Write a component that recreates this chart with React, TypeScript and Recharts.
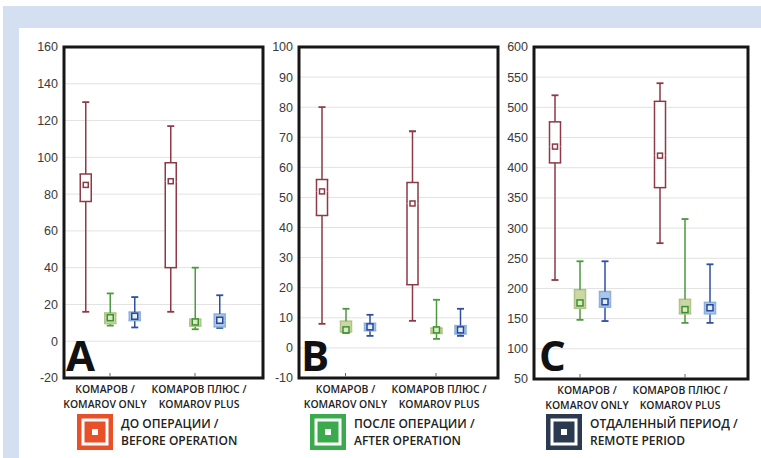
import React from "react";
import { ComposedChart, Bar, XAxis, YAxis, CartesianGrid, ReferenceArea } from "recharts";

// ---------- data ----------
const groupLine1 = ["КОМАРОВ /", "КОМАРОВ ПЛЮС /"];
const groupLine2 = ["KOMAROV ONLY", "KOMAROV PLUS"];
const periodLine1 = ["ДО ОПЕРАЦИИ /", "ПОСЛЕ ОПЕРАЦИИ /", "ОТДАЛЕННЫЙ ПЕРИОД /"];
const periodLine2 = ["BEFORE OPERATION", "AFTER OPERATION", "REMOTE PERIOD"];
const panelLetters = ["A", "B", "C"];

// each entry: [min, q1, median, q3, max] for [Komarov only, Komarov plus]
const aBefore = [[16, 76, 85, 91, 130], [16, 40, 87, 97, 117]];
const aAfter = [[8.5, 9.6, 12.8, 15.4, 26], [6.5, 8.2, 10.5, 12, 40]];
const aRemote = [[7.5, 11.2, 13.6, 15.9, 24], [7.2, 7.8, 11.4, 14.8, 25]];

const bBefore = [[8, 44, 52, 56, 80], [9, 21, 48, 55, 72]];
const bAfter = [[5, 5.3, 6, 8.9, 13], [3, 4.8, 6, 6.6, 16]];
const bRemote = [[4, 5.7, 7, 8.2, 11], [4, 4.6, 6, 7.4, 13]];

const cBefore = [[214, 408, 435, 476, 520], [275, 367, 420, 510, 540]];
const cAfter = [[148, 167, 176, 198, 245], [143, 158, 165, 182, 315]];
const cRemote = [[146, 169, 178, 195, 245], [143, 158, 168, 177, 240]];

const aTicks = [-20, 0, 20, 40, 60, 80, 100, 120, 140, 160];
const bTicks = [-10, 0, 10, 20, 30, 40, 50, 60, 70, 80, 90, 100];
const cTicks = [50, 100, 150, 200, 250, 300, 350, 400, 450, 500, 550, 600];

// ---------- styles / layout ----------
const seriesStyle = [
  { line: "#8c3a45", boxFill: "#ffffff", boxStroke: "#8c3a45", medStroke: "#8c3a45", medFill: "#ffffff", med: 5 },
  { line: "#4a9a3e", boxFill: "#cbd8a4", boxStroke: "#b0c389", medStroke: "#3b9232", medFill: "#dfe8c4", med: 6 },
  { line: "#2e4fa3", boxFill: "#a9c7e6", boxStroke: "#8db1d9", medStroke: "#27479e", medFill: "#e3eef9", med: 6 },
];
const legendColors = ["#e8502a", "#3aaa4c", "#2c3a50"];

const YW = 40;
const M = { top: 10, right: 10, bottom: 0, left: 0 };
const XH = 45;

const panels = [
  { series: [aBefore, aAfter, aRemote], ticks: aTicks, plotLeft: 64, plotTop: 47, plotW: 199, plotH: 331, centers: [46, 131], labelShift: [-5, 4], gap: 24.5, letterX: 66, legendX: 77 },
  { series: [bBefore, bAfter, bRemote], ticks: bTicks, plotLeft: 299, plotTop: 47, plotW: 199, plotH: 331, centers: [46.5, 137], labelShift: [0, 3], gap: 24, letterX: 301, legendX: 310 },
  { series: [cBefore, cAfter, cRemote], ticks: cTicks, plotLeft: 534, plotTop: 47, plotW: 214, plotH: 332, centers: [46, 151], labelShift: [7, -5], gap: 25, letterX: 539, legendX: 546 },
];

function buildRows(series: number[][][], centers: number[], gap: number) {
  const rows: any[] = [];
  centers.forEach((c, g) => {
    series.forEach((vals, s) => {
      const [mn, q1, md, q3, mx] = vals[g];
      rows.push({ x: c + (s - 1) * gap, s, base: mn, lw: q1 - mn, b1: md - q1, b2: q3 - md, uw: mx - q3 });
    });
  });
  return rows;
}

const CAP = 7;
const span = (p: any) => {
  const a = p.y, b = p.y + p.height;
  return [Math.min(a, b), Math.max(a, b)];
};

const Blank = () => <g />;

const LowerWhisker = (p: any) => {
  const st = seriesStyle[p.payload.s];
  const cx = p.x + p.width / 2;
  const [t, b] = span(p);
  return (
    <g>
      <line x1={cx} x2={cx} y1={t} y2={b} stroke={st.line} strokeWidth={1.5} />
      <line x1={cx - CAP / 2} x2={cx + CAP / 2} y1={b} y2={b} stroke={st.line} strokeWidth={1.8} />
    </g>
  );
};

const UpperWhisker = (p: any) => {
  const st = seriesStyle[p.payload.s];
  const cx = p.x + p.width / 2;
  const [t, b] = span(p);
  return (
    <g>
      <line x1={cx} x2={cx} y1={t} y2={b} stroke={st.line} strokeWidth={1.5} />
      <line x1={cx - CAP / 2} x2={cx + CAP / 2} y1={t} y2={t} stroke={st.line} strokeWidth={1.8} />
    </g>
  );
};

const BoxLower = (p: any) => {
  const st = seriesStyle[p.payload.s];
  const [t, b] = span(p);
  const l = p.x, r = p.x + p.width;
  return (
    <g>
      <rect x={l} y={t} width={p.width} height={b - t} fill={st.boxFill} />
      <line x1={l} x2={l} y1={t} y2={b} stroke={st.boxStroke} strokeWidth={1.5} />
      <line x1={r} x2={r} y1={t} y2={b} stroke={st.boxStroke} strokeWidth={1.5} />
      <line x1={l - 0.75} x2={r + 0.75} y1={b} y2={b} stroke={st.boxStroke} strokeWidth={1.5} />
    </g>
  );
};

const BoxUpper = (p: any) => {
  const st = seriesStyle[p.payload.s];
  const [t, b] = span(p);
  const l = p.x, r = p.x + p.width;
  const cx = p.x + p.width / 2;
  return (
    <g>
      <rect x={l} y={t} width={p.width} height={b - t} fill={st.boxFill} />
      <line x1={l} x2={l} y1={t} y2={b} stroke={st.boxStroke} strokeWidth={1.5} />
      <line x1={r} x2={r} y1={t} y2={b} stroke={st.boxStroke} strokeWidth={1.5} />
      <line x1={l - 0.75} x2={r + 0.75} y1={t} y2={t} stroke={st.boxStroke} strokeWidth={1.5} />
      <rect x={cx - st.med / 2} y={b - st.med / 2} width={st.med} height={st.med} fill={st.medFill} stroke={st.medStroke} strokeWidth={1.5} />
    </g>
  );
};

const labelFont = '"Open Sans", "DejaVu Sans", sans-serif';
const numFont = '"Liberation Sans", Arial, sans-serif';

function Panel({ cfg }: { cfg: any }) {
  const rows = buildRows(cfg.series, cfg.centers, cfg.gap);
  const ymin = cfg.ticks[0];
  const ymax = cfg.ticks[cfg.ticks.length - 1];
  const width = YW + cfg.plotW + M.right;
  const height = M.top + cfg.plotH + XH;
  const CatTick = (p: any) => {
    const idx = cfg.centers.indexOf(p.payload.value);
    const i = idx >= 0 ? idx : p.index;
    const lx = p.x + cfg.labelShift[i];
    return (
      <g>
        <line x1={p.x} x2={p.x} y1={p.y - 1.5} y2={p.y - 5} stroke="#666" strokeWidth={1} />
        <text x={lx} y={p.y + 15} textAnchor="middle" fontFamily={labelFont} fontWeight={600} fontSize={10.4} fill="#222">{groupLine1[i]}</text>
        <text x={lx} y={p.y + 30} textAnchor="middle" fontFamily={labelFont} fontWeight={600} fontSize={10.4} fill="#222">{groupLine2[i]}</text>
      </g>
    );
  };
  return (
    <div style={{ position: "absolute", left: cfg.plotLeft - YW - M.left, top: cfg.plotTop - M.top }}>
      <ComposedChart width={width} height={height} data={rows} margin={M}>
        <CartesianGrid vertical={false} stroke="#e2e2e2" strokeWidth={1} />
        <XAxis dataKey="x" type="number" domain={[0, cfg.plotW]} ticks={cfg.centers} interval={0}
          tickLine={false} axisLine={false} tickSize={0} tickMargin={0} height={XH} tick={CatTick} />
        <XAxis xAxisId="t" dataKey="x" orientation="top" mirror height={0} type="number" domain={[0, cfg.plotW]}
          ticks={cfg.centers} interval={0} tick={false} axisLine={false} tickSize={4} tickLine={{ stroke: "#666" }} />
        <YAxis type="number" domain={[ymin, ymax]} allowDataOverflow ticks={cfg.ticks} interval={0} width={YW}
          tickLine={false} axisLine={false} tickSize={4} tickMargin={2}
          tick={{ fill: "#3a3a3a", fontSize: 12.5, fontFamily: numFont }} />
        <YAxis yAxisId="r" orientation="right" mirror width={0} type="number" domain={[ymin, ymax]} allowDataOverflow ticks={cfg.ticks}
          interval={0} tick={false} axisLine={false} tickSize={4} tickLine={{ stroke: "#666" }} />
        <Bar dataKey="base" stackId="b" barSize={11} shape={Blank} isAnimationActive={false} />
        <Bar dataKey="lw" stackId="b" barSize={11} shape={LowerWhisker} isAnimationActive={false} />
        <Bar dataKey="b1" stackId="b" barSize={11} shape={BoxLower} isAnimationActive={false} />
        <Bar dataKey="b2" stackId="b" barSize={11} shape={BoxUpper} isAnimationActive={false} />
        <Bar dataKey="uw" stackId="b" barSize={11} shape={UpperWhisker} isAnimationActive={false} />
        <ReferenceArea x1={0} x2={cfg.plotW} y1={ymin} y2={ymax} fill="none" fillOpacity={0} stroke="#161616" strokeWidth={3} />
      </ComposedChart>
    </div>
  );
}

export default function App() {
  return (
    <div style={{ position: "absolute", left: 0, top: 0, width: 761, height: 458, background: "#fff", overflow: "hidden" }}>
      <svg width={761} height={458} style={{ position: "absolute", left: 0, top: 0 }}>
        <rect x={3} y={6} width={758} height={22} fill="#d4e0f1" />
        <rect x={3} y={6} width={16} height={452} fill="#d4e0f1" />
        {panels.map((p, i) => (
          <g key={i}>
            <rect x={p.legendX} y={414} width={36} height={36} fill={legendColors[i]} />
            <rect x={p.legendX + 6} y={420} width={24} height={24} fill="none" stroke="#fff" strokeWidth={3} />
            <rect x={p.legendX + 15} y={429} width={6} height={6} fill="#fff" />
            <text x={p.legendX + 44} y={428} fontFamily={labelFont} fontWeight={600} fontSize={12} fill="#222">{periodLine1[i]}</text>
            <text x={p.legendX + 44} y={444.5} fontFamily={labelFont} fontWeight={600} fontSize={12} fill="#222">{periodLine2[i]}</text>
          </g>
        ))}
      </svg>
      {panels.map((p, i) => (
        <Panel key={i} cfg={p} />
      ))}
      <svg width={761} height={458} style={{ position: "absolute", left: 0, top: 0, pointerEvents: "none" }}>
        {panels.map((p, i) => (
          <text key={i} x={p.letterX} y={371} fontFamily={labelFont} fontWeight={700} fontSize={42} fill="#111">{panelLetters[i]}</text>
        ))}
      </svg>
    </div>
  );
}
